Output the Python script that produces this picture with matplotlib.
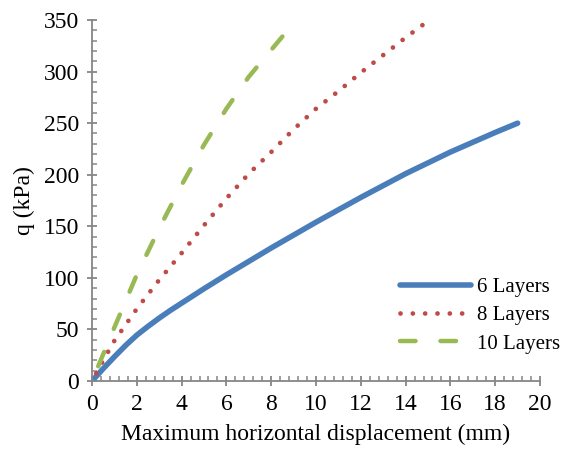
import matplotlib
matplotlib.use("Agg")
import matplotlib.pyplot as plt
import numpy as np
from matplotlib.ticker import MultipleLocator

plt.rcParams['font.family'] = ['Liberation Serif', 'DejaVu Serif']

# data
x6 = [0, 0.5, 1, 1.5, 2, 2.5, 3, 3.5, 4, 5, 6, 7, 8, 10, 12, 14, 16, 18, 19]
q6 = [0, 12, 23.5, 34.5, 44.5, 53, 61, 68.5, 75.5, 89.5, 103, 116, 129, 154, 178, 201, 222, 241, 250]

x8 = [0, 0.5, 1, 2, 3, 4, 5, 6, 7, 8, 9, 10, 11, 12, 13, 14, 14.75]
q8 = [0, 20, 39, 70, 98, 124, 151, 177, 201, 222, 244, 264, 281, 299, 316, 333, 345]

x10 = [0, 1, 2, 3, 4, 5, 6, 7, 8, 8.5]
q10 = [0, 52, 103, 148, 190, 229, 264, 295, 321, 334]

labels = ["6 Layers", "8 Layers", "10 Layers"]

fig = plt.figure(figsize=(5.62, 4.55), dpi=100)
ax = fig.add_axes([0.1637, 0.1626, 0.7972, 0.7934])
ax.set_xlim(0, 20)
ax.set_ylim(0, 350)


def dash_offset(xs, ys, lw, on, off):
    # shift the dash pattern so that a dash ends right at the last point
    pts = ax.transData.transform(np.column_stack([xs, ys]))
    length = np.sum(np.hypot(*np.diff(pts, axis=0).T)) * 72 / fig.dpi
    period = (on + off) * lw
    return ((on * lw - length) % period) / lw


ax.plot(x6, q6, color='#4A7EBB', lw=4, solid_capstyle='round', label=labels[0])
off8 = dash_offset(x8, q8, 3.4, 0.01, 2.6)
ax.plot(x8, q8, color='#BE4B48', lw=3.4, linestyle=(off8, (0.01, 2.6)),
        dash_capstyle='round')
off10 = dash_offset(x10, q10, 3.2, 3.5, 5.6)
ax.plot(x10, q10, color='#98B954', lw=3.2, linestyle=(off10, (3.5, 5.6)),
        dash_capstyle='round')

# legend handles with a plain pattern
ax.plot([], [], color='#BE4B48', lw=3.4, linestyle=(0, (0.01, 2.6)),
        dash_capstyle='round', label=labels[1])
ax.plot([], [], color='#98B954', lw=3.2, linestyle=(0, (3.5, 5.6)),
        dash_capstyle='round', label=labels[2])

ax.xaxis.set_major_locator(MultipleLocator(2))
ax.xaxis.set_minor_locator(MultipleLocator(0.4))
ax.yaxis.set_major_locator(MultipleLocator(50))
ax.yaxis.set_minor_locator(MultipleLocator(10))

gray = '#868686'
for s in ['top', 'right']:
    ax.spines[s].set_visible(False)
for s in ['left', 'bottom']:
    ax.spines[s].set_color(gray)
    ax.spines[s].set_linewidth(1.3)
ax.tick_params(which='major', direction='inout', length=7, width=1.3, color=gray,
               labelsize=17, pad=6)
ax.tick_params(which='minor', direction='in', length=3.6, width=1.1, color=gray)

ax.set_xlabel("Maximum horizontal displacement (mm)", fontsize=17, labelpad=6)
ax.set_ylabel("q (kPa)", fontsize=17, labelpad=6)

ax.legend(loc='lower right', bbox_to_anchor=(1.086, 0.024), frameon=False, fontsize=15,
          handlelength=3.45, handletextpad=0.25, labelspacing=0.41)

fig.savefig("out.png", dpi=100)
